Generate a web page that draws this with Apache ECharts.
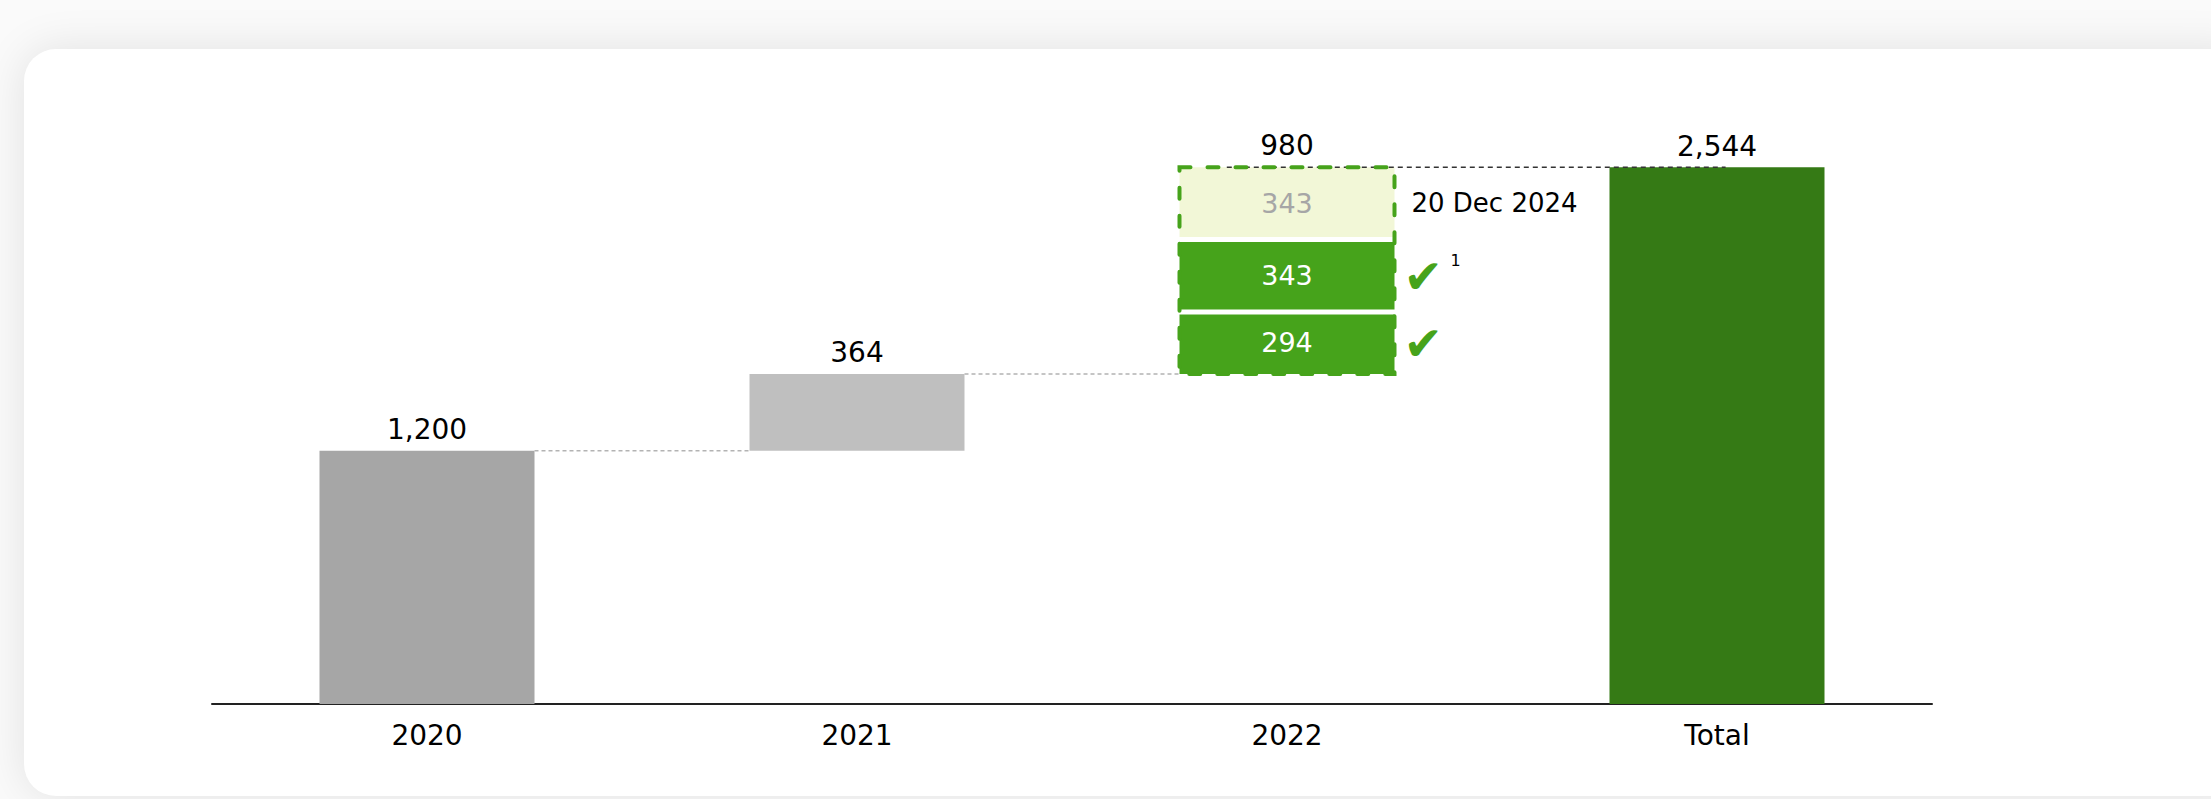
<!DOCTYPE html>
<html>
<head>
<meta charset="utf-8">
<title>Waterfall</title>
<script src="https://cdn.jsdelivr.net/npm/echarts@6/dist/echarts.min.js"></script>
<style>
  html, body { margin: 0; padding: 0; width: 2211px; height: 799px; overflow: hidden; background: #fafafa; }
  #card {
    position: absolute; left: 24px; top: 49px; width: 2230px; height: 747px;
    background: #fff; border-radius: 32px;
    box-shadow: 0 0 45px rgba(0, 0, 0, 0.1);
  }
  #chart { position: absolute; left: 0; top: 0; width: 2211px; height: 799px; }
</style>
</head>
<body>
<div id="card"></div>
<div id="chart"></div>
<script>
// ---- data ----
const categories = ['2020', '2021', '2022', 'Total'];
const stepValues = [1200, 364];            // 2020, 2021 increments
const segments2022 = [294, 343, 343];      // 2022 pieces, bottom to top
const segmentNotes = ['\u2714', '\u2714', '20 Dec 2024'];
const segmentMarks = ['', '1', ''];

// ---- colours ----
const GREY_DARK = '#a6a6a6';
const GREY_LIGHT = '#bfbfbf';
const GREEN = '#46a31b';
const GREEN_DARK = '#357a15';
const GREEN_PALE = '#f2f7d7';
const FONT = '"DejaVu Sans", Verdana, sans-serif';

// ---- derived waterfall levels ----
const levels = [];
let running = 0;
stepValues.forEach(v => { levels.push(running); running += v; });
const base2022 = running;
const sum2022 = segments2022.reduce((a, b) => a + b, 0);
const grandTotal = base2022 + sum2022;
const fmt = v => Number(v).toLocaleString('en-US');

const topLabel = { show: true, position: 'top', distance: 7, color: '#000', fontSize: 28, fontFamily: FONT, formatter: p => fmt(p.value) };
const innerLabel = (color) => ({ show: true, position: 'inside', color: color, fontSize: 27, fontFamily: FONT });

const baseData = [levels[0], levels[1], base2022, 0];
const mainData = [
  { value: stepValues[0], itemStyle: { color: GREY_DARK }, label: topLabel },
  { value: stepValues[1], itemStyle: { color: GREY_LIGHT }, label: topLabel },
  { value: segments2022[0], itemStyle: { color: GREEN }, label: innerLabel('#fff') },
  { value: grandTotal, itemStyle: { color: GREEN_DARK }, label: topLabel }
];
const seg2Data = ['-', '-', { value: segments2022[1], itemStyle: { color: GREEN }, label: innerLabel('#fff') }, '-'];
const seg3Data = ['-', '-', { value: segments2022[2], itemStyle: { color: GREEN_PALE }, label: innerLabel('#a6a6a6') }, '-'];

// connector levels: [category index, level]
const connectorData = [[0, levels[1]], [1, base2022], [2, grandTotal]];

const chart = echarts.init(document.getElementById('chart'), null, { renderer: 'svg' });

chart.setOption({
  animation: false,
  backgroundColor: 'transparent',
  grid: { left: 212, right: 279, top: 71, bottom: 95 },
  xAxis: {
    type: 'category',
    data: categories,
    axisLine: { show: true, lineStyle: { color: '#222', width: 2 } },
    axisTick: { show: false },
    axisLabel: { color: '#000', fontSize: 28, fontFamily: FONT, margin: 17 },
    splitLine: { show: false }
  },
  yAxis: { type: 'value', min: 0, max: 3000, show: false, splitLine: { show: false } },
  series: [
    { name: 'base', type: 'bar', stack: 'w', barWidth: '50%', silent: true,
      itemStyle: { color: 'transparent' }, data: baseData },
    { name: 'main', type: 'bar', stack: 'w', barWidth: '50%', data: mainData },
    { name: 'seg2', type: 'bar', stack: 'w', barWidth: '50%', data: seg2Data },
    { name: 'seg3', type: 'bar', stack: 'w', barWidth: '50%', data: seg3Data },
    {
      // dashed connectors between the columns
      name: 'connectors', type: 'custom', z: 5, silent: true,
      data: connectorData,
      renderItem: function (params, api) {
        const i = api.value(0), v = api.value(1);
        const p = api.coord([i, v]);
        const q = api.coord([i + 1, v]);
        const band = api.size([1, 0])[0];
        const half = band * 0.25;
        const last = i === connectorData.length - 1;
        const x1 = last ? p[0] - band * 0.14 : p[0] + half;
        const x2 = last ? q[0] + band * 0.02 : q[0] - half;
        return {
          type: 'line',
          shape: { x1: x1, y1: p[1], x2: x2, y2: p[1] },
          style: last
            ? { stroke: '#333', lineWidth: 1.5, lineDash: [5, 4] }
            : { stroke: '#b3b3b3', lineWidth: 1.5, lineDash: [4, 3] }
        };
      }
    },
    {
      // 2022 stack: separators, dashed outline, total and notes
      name: 'stack2022', type: 'custom', z: 6, silent: true,
      data: [[2, base2022]],
      renderItem: function (params, api) {
        const ci = api.value(0);
        const bottom = api.coord([ci, base2022]);
        const top = api.coord([ci, grandTotal]);
        const band = api.size([1, 0])[0];
        const bw = band * 0.5;
        const left = bottom[0] - bw / 2;
        const right = left + bw;
        const children = [];
        let acc = base2022;
        for (let k = 0; k < segments2022.length - 1; k++) {
          acc += segments2022[k];
          const y = api.coord([ci, acc])[1];
          children.push({ type: 'rect', shape: { x: left - 1, y: y - 2.5, width: bw + 2, height: 5 }, style: { fill: '#fff' } });
        }
        children.push({
          type: 'rect',
          shape: { x: left, y: top[1], width: bw, height: bottom[1] - top[1] },
          style: { fill: 'none', stroke: GREEN, lineWidth: 4, lineDash: [11, 17], lineCap: 'round' }
        });
        children.push({
          type: 'text', x: bottom[0], y: top[1] - 8,
          style: { text: fmt(sum2022), fill: '#000', fontSize: 28, fontFamily: FONT, align: 'center', verticalAlign: 'bottom' }
        });
        acc = base2022;
        segments2022.forEach((s, k) => {
          const midY = api.coord([ci, acc + s / 2])[1];
          acc += s;
          const note = segmentNotes[k];
          if (note === '\u2714') {
            children.push({
              type: 'text', x: right + 9, y: midY + 1,
              style: { text: note, fill: GREEN, fontSize: 47, fontFamily: FONT, align: 'left', verticalAlign: 'middle' }
            });
          } else if (note) {
            children.push({
              type: 'text', x: right + 17, y: midY,
              style: { text: note, fill: '#000', fontSize: 26, fontFamily: FONT, align: 'left', verticalAlign: 'middle' }
            });
          }
          if (segmentMarks[k]) {
            children.push({
              type: 'text', x: right + 56, y: midY - 7,
              style: { text: segmentMarks[k], fill: '#000', fontSize: 16, fontFamily: FONT, align: 'left', verticalAlign: 'bottom' }
            });
          }
        });
        return { type: 'group', children: children };
      }
    }
  ]
});
</script>
</body>
</html>
